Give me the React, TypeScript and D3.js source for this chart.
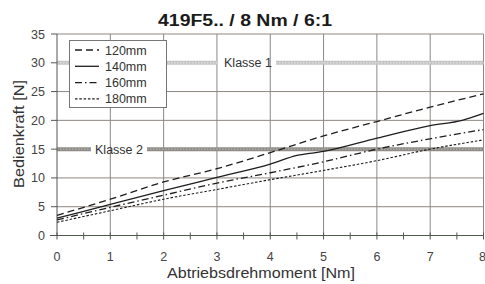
import React from "react";
import * as d3 from "d3";

const torque120 = [0, 1, 2, 3, 4, 5, 6, 7, 8];
const force120 = [3.5, 6.3, 9.3, 11.6, 14.4, 17.3, 19.8, 22.3, 24.6];
const torque140 = [0, 1, 2, 3, 4, 4.5, 5, 6, 7, 7.6, 8];
const force140 = [3.0, 5.4, 7.8, 10.1, 12.4, 13.9, 14.6, 16.9, 19.1, 20.0, 21.2];
const torque160 = [0, 1, 2, 3, 4, 5, 6, 7, 8];
const force160 = [2.7, 4.9, 7.0, 9.1, 10.9, 12.8, 15.0, 16.8, 18.4];
const torque180 = [0, 1, 2, 3, 4, 5, 6, 7, 8];
const force180 = [2.3, 4.3, 6.3, 8.0, 9.7, 11.3, 13.0, 15.0, 16.6];

const seriesNames = ["120mm", "140mm", "160mm", "180mm"];
const xTicks = [0, 1, 2, 3, 4, 5, 6, 7, 8];
const yTicks = [0, 5, 10, 15, 20, 25, 30, 35];
const classLevels = [30, 15];
const classLabels = ["Klasse 1", "Klasse 2"];
const title = "419F5.. / 8 Nm / 6:1";
const xTitle = "Abtriebsdrehmoment [Nm]";
const yTitle = "Bedienkraft [N]";

const dashes = ["7,4", "", "7,3,1.5,3", "2.5,1.8"];

export default function App() {
  const W = 485, H = 284;
  const left = 57, right = 483.5, top = 34, bottom = 235.5;
  const x = d3.scaleLinear().domain([0, 8]).range([left, right]);
  const y = d3.scaleLinear().domain([0, 35]).range([bottom, top]);
  const line = d3
    .line<[number, number]>()
    .x((d) => x(d[0]))
    .y((d) => y(d[1]))
    .curve(d3.curveMonotoneX);

  const series = [
    torque120.map((t, i) => [t, force120[i]] as [number, number]),
    torque140.map((t, i) => [t, force140[i]] as [number, number]),
    torque160.map((t, i) => [t, force160[i]] as [number, number]),
    torque180.map((t, i) => [t, force180[i]] as [number, number]),
  ];

  const minor = d3.range(0, 8.01, 0.5);
  const gapK = [
    [218, 276],
    [91, 147],
  ];
  const labelX = [248, 119];
  const classColors = ["#c4c4c4", "#8f8c88"];
  const font = "'Liberation Sans', Arial, sans-serif";

  return (
    <svg
      width={W}
      height={H}
      style={{ position: "absolute", left: 0, top: 0, background: "#fff" }}
      fontFamily={font}
    >
      <rect x={0} y={0} width={W} height={H} fill="#fff" />
      <text
        x={245}
        y={26}
        textAnchor="middle"
        fontWeight="bold"
        fontSize={16}
        fill="#1a1a1a"
        textLength={174}
        lengthAdjust="spacingAndGlyphs"
      >
        {title}
      </text>

      {/* horizontal grid */}
      {yTicks
        .filter((v) => v !== 0 && !classLevels.includes(v))
        .map((v) => (
          <line key={"h" + v} x1={left} x2={right} y1={y(v)} y2={y(v)} stroke="#8d8782" strokeWidth={1} />
        ))}
      {/* vertical grid */}
      {xTicks
        .filter((v) => v !== 0)
        .map((v) => (
          <line key={"v" + v} x1={x(v)} x2={x(v)} y1={top} y2={bottom} stroke="#8d8782" strokeWidth={1} />
        ))}

      {/* class lines */}
      {classLevels.map((lv, i) => {
        const yy = y(lv);
        const segs = [
          [left, gapK[i][0]],
          [gapK[i][1], right],
        ];
        return (
          <g key={"k" + lv}>
            {segs.map((s, j) => (
              <g key={j}>
                <line x1={s[0]} x2={s[1]} y1={yy} y2={yy} stroke={classColors[i]} strokeWidth={4} />
                <line
                  x1={s[0]}
                  x2={s[1]}
                  y1={yy}
                  y2={yy}
                  stroke={i === 0 ? "#e2e2e2" : "#b5b2ae"}
                  strokeWidth={1.2}
                  strokeDasharray="1.5,1.5"
                />
              </g>
            ))}
            <text x={labelX[i]} y={yy + 4.5} textAnchor="middle" fontSize={12.5} fill="#333">
              {classLabels[i]}
            </text>
          </g>
        );
      })}

      {/* axes */}
      <line x1={left} x2={left} y1={top} y2={bottom} stroke="#555" strokeWidth={1} />
      <line x1={left - 7} x2={right} y1={bottom} y2={bottom} stroke="#4f5a4f" strokeWidth={1.2} />
      {yTicks.map((v) => (
        <g key={"yt" + v}>
          <line x1={left - 6} x2={left} y1={y(v)} y2={y(v)} stroke="#555" />
          <text x={45} y={y(v) + 4.5} textAnchor="end" fontSize={12.5} fill="#444">
            {v}
          </text>
        </g>
      ))}
      {minor.map((v) => (
        <line key={"m" + v} x1={x(v)} x2={x(v)} y1={bottom - 3} y2={bottom + 4} stroke="#555" />
      ))}
      {xTicks.map((v) => (
        <text key={"xt" + v} x={v === 8 ? x(v) - 1 : x(v)} y={261} textAnchor="middle" fontSize={12.5} fill="#444">
          {v}
        </text>
      ))}
      <text
        x={261}
        y={278}
        textAnchor="middle"
        fontSize={14}
        fill="#333"
        textLength={188}
        lengthAdjust="spacingAndGlyphs"
      >
        {xTitle}
      </text>
      <text
        transform={`translate(24,134) rotate(-90)`}
        textAnchor="middle"
        fontSize={14}
        fill="#333"
        textLength={108}
        lengthAdjust="spacingAndGlyphs"
      >
        {yTitle}
      </text>

      {/* series */}
      {series.map((s, i) => (
        <path
          key={"s" + i}
          d={line(s) || ""}
          fill="none"
          stroke="#1e1e1e"
          strokeWidth={i === 3 ? 1.1 : 1.3}
          strokeDasharray={dashes[i] || undefined}
        />
      ))}

      {/* legend */}
      <rect x={69.5} y={40.5} width={97} height={67} fill="#fff" stroke="#777" strokeWidth={1} />
      {seriesNames.map((n, i) => {
        const ly = 50 + i * 16.3;
        return (
          <g key={"l" + n}>
            <line
              x1={75}
              x2={99}
              y1={ly}
              y2={ly}
              stroke="#1e1e1e"
              strokeWidth={1.3}
              strokeDasharray={dashes[i] || undefined}
            />
            <text x={105} y={ly + 4.5} fontSize={12.5} fill="#333">
              {n}
            </text>
          </g>
        );
      })}
    </svg>
  );
}
